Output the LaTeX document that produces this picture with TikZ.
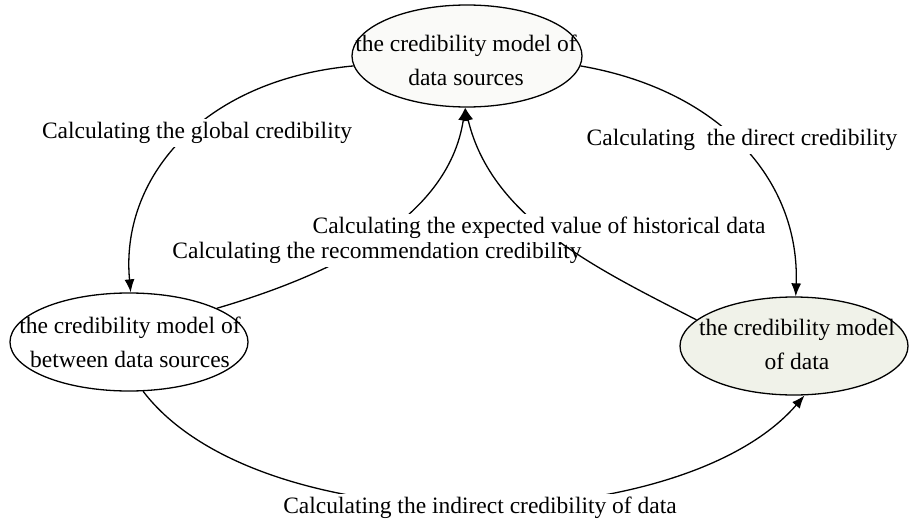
\documentclass[tikz,border=0pt]{standalone}
\usepackage{fontspec}
\setmainfont{Liberation Serif}
\usetikzlibrary{shapes.geometric,arrows.meta}
\definecolor{dataFill}{HTML}{F0F2E9}
\definecolor{srcFill}{HTML}{FAFAF8}
\begin{document}
\begin{tikzpicture}[x=1pt,y=-1pt,
  model/.style={ellipse,draw,line width=1.3pt,inner sep=0pt},
  mtext/.style={align=center,font=\fontsize{23.5}{34}\selectfont,inner sep=0pt},
  lbl/.style={fill=white,inner xsep=2pt,inner ysep=3pt,font=\fontsize{23.5}{28}\selectfont},
  conn/.style={line width=1.3pt,-{Latex[length=13pt,width=10pt]}}]
\useasboundingbox (0,0) rectangle (909,524);
% ellipses
\node[model,fill=srcFill,minimum width=230pt,minimum height=102pt] (T) at (467,56) {};
\node[model,minimum width=238pt,minimum height=98pt] (L) at (129,342) {};
\node[model,fill=dataFill,minimum width=228pt,minimum height=98pt] (R) at (794,346) {};
\node[mtext] (Tt) at (466,60) {the credibility model of\\data sources};
\node[mtext] (Lt) at (130,342) {the credibility model of\\between data sources};
\node[mtext] (Rt) at (797,344) {the credibility model\\of data};
% connectors
\draw[conn] (L.21) .. controls (330,275) and (448,220) .. (T.268);
\node[lbl] (rec) at (377,253) {Calculating the recommendation credibility};
\draw[conn] (R.165) .. controls (600,270) and (492,220) .. (T.268);
\node[lbl] (exp) at (539,228) {Calculating the expected value of historical data};
\draw[conn] (T.185) .. controls (200,80) and (120,180) .. (L.88);
\draw[conn] (T.355) .. controls (720,90) and (800,180) .. (R.88);
\draw[conn] (L.286) .. controls (260,545) and (680,540) .. (R.282);
\node[lbl] (glob) at (197,133) {Calculating the global credibility};
\node[lbl] (dir) at (742,140) {Calculating~ the direct credibility};
\node[lbl] (ind) at (480,508) {Calculating the indirect credibility of data};
\end{tikzpicture}
\end{document}
